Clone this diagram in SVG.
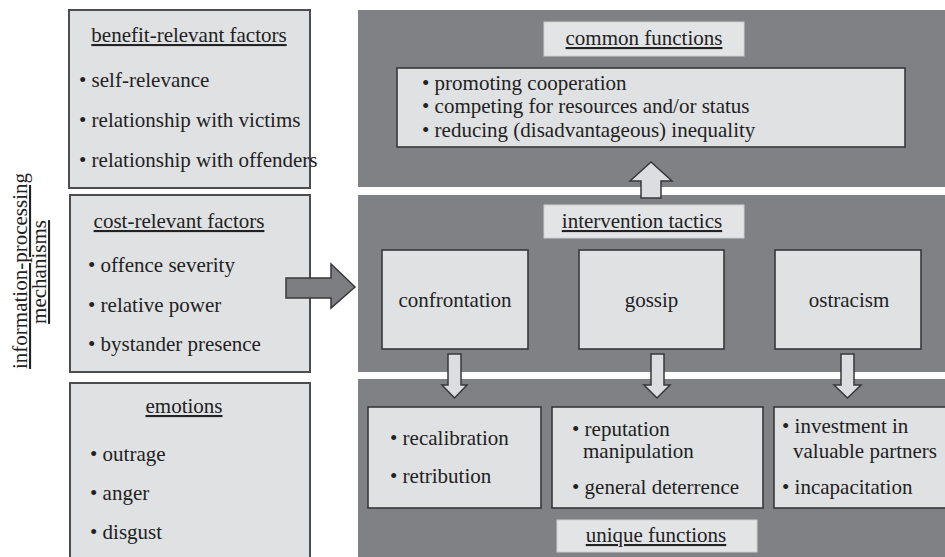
<svg xmlns="http://www.w3.org/2000/svg" width="945" height="557" viewBox="0 0 945 557">
<defs>
<style>
text{font-family:'Liberation Serif','Times New Roman',serif;font-size:21px;fill:#222}
.u{text-decoration:underline}
.m{text-anchor:middle}
.lbox{fill:#e0e1e3;stroke:#4d4d4f;stroke-width:2}
.panel{fill:#808184}
.ibox{fill:#e0e1e3;stroke:#38383a;stroke-width:1.6}
.label{fill:#e3e4e6;stroke:#cfd0d2;stroke-width:1}
.arr{fill:#dcdde0;stroke:#38383a;stroke-width:1.5;stroke-linejoin:miter}
.big{fill:#7d7e81;stroke:#38383a;stroke-width:1.5}
</style>
</defs>
<rect width="945" height="557" fill="#ffffff"/>

<g id="side-label">
<text class="m u" transform="translate(27,271) rotate(-90)">information-processing</text>
<text class="m u" transform="translate(46,272) rotate(-90)">mechanisms</text>
</g>

<g id="benefit-factors">
<rect class="lbox" x="69" y="10" width="241" height="178"/>
<text class="m u" x="189" y="42">benefit-relevant factors</text>
<text x="79" y="87">• self-relevance</text>
<text x="79" y="127">• relationship with victims</text>
<text x="79" y="167">• relationship with offenders</text>
</g>

<g id="cost-factors">
<rect class="lbox" x="70" y="195" width="240" height="177"/>
<text class="m u" x="179" y="228">cost-relevant factors</text>
<text x="88" y="272">• offence severity</text>
<text x="88" y="312">• relative power</text>
<text x="88" y="351">• bystander presence</text>
</g>

<g id="emotions">
<rect class="lbox" x="70" y="383" width="240" height="180"/>
<text class="m u" x="184" y="413">emotions</text>
<text x="90" y="461">• outrage</text>
<text x="90" y="500">• anger</text>
<text x="90" y="539">• disgust</text>
</g>

<g id="common-functions">
<rect class="panel" x="358" y="10" width="590" height="177"/>
<rect class="label" x="544" y="22" width="200" height="34"/>
<text class="m u" x="644" y="45">common functions</text>
<rect class="ibox" x="397" y="68" width="508" height="79"/>
<text x="422" y="90">• promoting cooperation</text>
<text x="422" y="113">• competing for resources and/or status</text>
<text x="422" y="137">• reducing (disadvantageous) inequality</text>
</g>

<g id="intervention-tactics">
<rect class="panel" x="358" y="195" width="590" height="177"/>
<rect class="label" x="544" y="205" width="200" height="33"/>
<text class="m u" x="642" y="228">intervention tactics</text>
</g>

<g id="confrontation">
<rect class="ibox" x="382" y="250" width="146" height="99"/>
<text class="m" x="455" y="307">confrontation</text>
</g>

<g id="gossip">
<rect class="ibox" x="579" y="250" width="145" height="99"/>
<text class="m" x="651.5" y="307">gossip</text>
</g>

<g id="ostracism">
<rect class="ibox" x="775" y="250" width="146" height="99"/>
<text class="m" x="849" y="307">ostracism</text>
</g>

<g id="unique-functions">
<rect class="panel" x="358" y="379" width="590" height="180"/>
<rect class="label" x="557" y="520" width="200" height="32"/>
<text class="m u" x="656" y="542">unique functions</text>
</g>

<g id="confrontation-functions">
<rect class="ibox" x="368" y="407" width="173" height="101"/>
<text x="390" y="445">• recalibration</text>
<text x="390" y="483">• retribution</text>
</g>

<g id="gossip-functions">
<rect class="ibox" x="552" y="407" width="211" height="101"/>
<text x="572" y="436">• reputation</text>
<text x="583" y="458">manipulation</text>
<text x="572" y="494">• general deterrence</text>
</g>

<g id="ostracism-functions">
<rect class="ibox" x="774" y="407" width="180" height="101"/>
<text x="782" y="433">• investment in</text>
<text x="793" y="458">valuable partners</text>
<text x="782" y="494">• incapacitation</text>
</g>

<g id="connectors">
<polygon class="big" points="286,278 331,278 331,264 355,287 331,308 331,298 286,298"/>
<polygon class="arr" points="641,198 641,181 630,181 651,162 672,181 661,181 661,198"/>
<polygon class="arr" points="448,354 461,354 461,385 467,385 454.5,398 442,385 448,385"/>
<polygon class="arr" points="651,354 664,354 664,385 670,385 657,398 644,385 651,385"/>
<polygon class="arr" points="841,354 854,354 854,385 861,385 847.5,398 834,385 841,385"/>
</g>
</svg>
